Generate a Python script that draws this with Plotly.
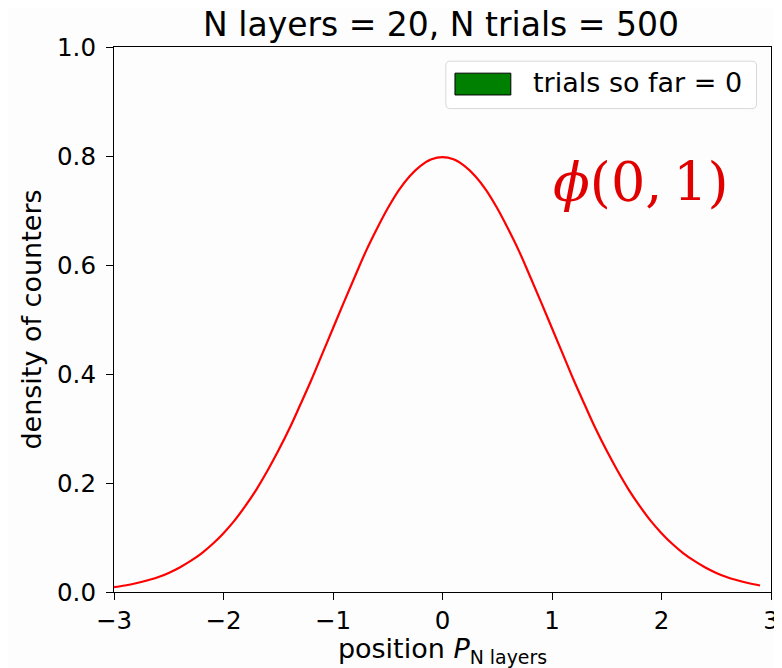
import plotly.graph_objects as go

# curve values
x_vals = [-3.0, -2.9, -2.8, -2.7, -2.6, -2.5, -2.4, -2.3, -2.2, -2.1,
          -2.0, -1.9, -1.8, -1.7, -1.6, -1.5, -1.4, -1.3, -1.2, -1.1,
          -1.0, -0.9, -0.8, -0.7, -0.6, -0.5, -0.4, -0.3, -0.2, -0.1,
          0.0, 0.1, 0.2, 0.3, 0.4, 0.5, 0.6, 0.7, 0.8, 0.9,
          1.0, 1.1, 1.2, 1.3, 1.4, 1.5, 1.6, 1.7, 1.8, 1.9,
          2.0, 2.1, 2.2, 2.3, 2.4, 2.5, 2.6, 2.7, 2.8, 2.9]
y_vals = [0.009, 0.012, 0.016, 0.021, 0.027, 0.035, 0.045, 0.057, 0.071, 0.088,
          0.108, 0.131, 0.158, 0.188, 0.222, 0.259, 0.299, 0.343, 0.388, 0.436,
          0.484, 0.532, 0.579, 0.625, 0.666, 0.704, 0.737, 0.763, 0.782, 0.794,
          0.798, 0.794, 0.782, 0.763, 0.737, 0.704, 0.666, 0.625, 0.579, 0.532,
          0.484, 0.436, 0.388, 0.343, 0.299, 0.259, 0.222, 0.188, 0.158, 0.131,
          0.108, 0.088, 0.071, 0.057, 0.045, 0.035, 0.027, 0.021, 0.016, 0.012]

x_ticks = [-3, -2, -1, 0, 1, 2, 3]
y_ticks = [0.0, 0.2, 0.4, 0.6, 0.8, 1.0]
title_text = "N layers = 20, N trials = 500"
legend_text = "trials so far = 0"
formula_text = "<i>ϕ</i>(0,\u20091)"

FONT = "DejaVu Sans"
TICK_SIZE = 24.5
LABEL_SIZE = 27

fig = go.Figure()
fig.add_trace(go.Scatter(x=x_vals, y=y_vals, mode="lines",
                         line=dict(color="#ff0000", width=2.2, shape="spline"),
                         showlegend=False, hoverinfo="skip"))

axis_common = dict(showgrid=False, zeroline=False, showline=True, mirror=True,
                   linecolor="black", linewidth=1.2, ticks="outside",
                   ticklen=7, tickwidth=1.2, tickcolor="black", automargin=False,
                   tickfont=dict(family=FONT, size=TICK_SIZE, color="black"))

# the page body adds an 8px offset, so the figure is 8px smaller and margins shifted
fig.update_layout(
    width=774, height=660,
    margin=dict(l=106, r=11, t=38.5, b=76),
    paper_bgcolor="#fdfdfd", plot_bgcolor="#fdfdfd",
    title=dict(text=title_text, x=0.5594, xanchor="center", y=0.975, yanchor="middle",
               font=dict(family=FONT, size=33, color="black")),
    xaxis=dict(range=[-3, 3], tickvals=x_ticks,
               ticktext=[("−" + str(abs(t))) if t < 0 else str(t) for t in x_ticks],
               ticklabelstandoff=-1,
               title=dict(text="position <i>P</i><sub>N layers</sub>", standoff=8,
                          font=dict(family=FONT, size=LABEL_SIZE, color="black")),
               **axis_common),
    yaxis=dict(range=[0, 1.0], tickvals=y_ticks,
               ticktext=[f"{t:.1f}" for t in y_ticks],
               ticklabelstandoff=5,
               title=dict(text="density of counters", standoff=7,
                          font=dict(family=FONT, size=LABEL_SIZE, color="black")),
               **axis_common),
    showlegend=False,
)

# manual legend box (rounded corners)
bx0, bx1, by0, by1 = 0.505, 0.978, 0.887, 0.974
rx, ry = 0.007, 0.009
legend_path = (f"M {bx0+rx},{by0} L {bx1-rx},{by0} Q {bx1},{by0} {bx1},{by0+ry} "
               f"L {bx1},{by1-ry} Q {bx1},{by1} {bx1-rx},{by1} "
               f"L {bx0+rx},{by1} Q {bx0},{by1} {bx0},{by1-ry} "
               f"L {bx0},{by0+ry} Q {bx0},{by0} {bx0+rx},{by0} Z")
fig.add_shape(type="path", xref="paper", yref="paper", path=legend_path,
              line=dict(color="#d8d8d8", width=1), fillcolor="rgba(255,255,255,0.8)")
fig.add_shape(type="rect", xref="paper", yref="paper",
              x0=0.519, x1=0.604, y0=0.912, y1=0.952,
              line=dict(color="black", width=1), fillcolor="#008000")
fig.add_annotation(xref="paper", yref="paper", x=0.634, y=0.934,
                   xanchor="left", yanchor="middle", showarrow=False,
                   text=legend_text, font=dict(family=FONT, size=LABEL_SIZE, color="black"))

# formula annotation
fig.add_annotation(xref="paper", yref="paper", x=0.665, y=0.752,
                   xanchor="left", yanchor="middle", showarrow=False,
                   text=formula_text,
                   font=dict(family="DejaVu Serif", size=54, color="#e00000"))

fig.write_html("out.html")
